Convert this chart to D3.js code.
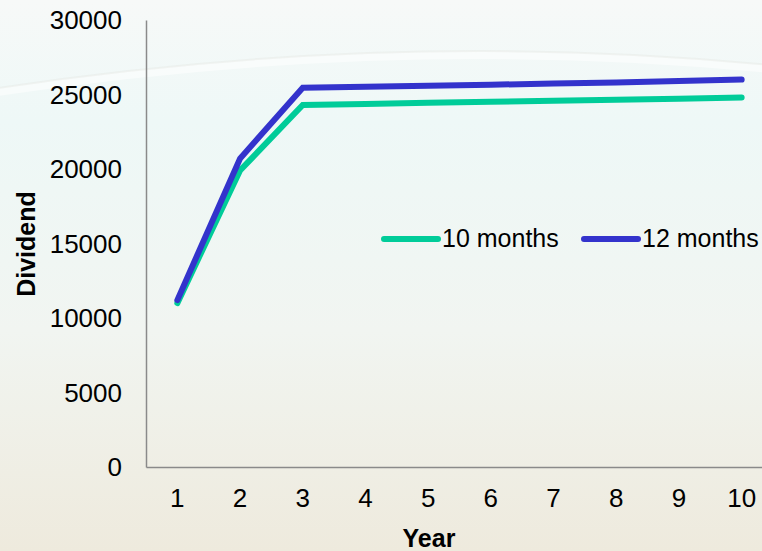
<!DOCTYPE html>
<html><head><meta charset="utf-8">
<script src="https://cdn.jsdelivr.net/npm/d3@7"></script>
<style>html,body{margin:0;padding:0;overflow:hidden;}svg{display:block;}</style>
</head><body>
<script>
const years = ["1","2","3","4","5","6","7","8","9","10"];
const tenMonths = [11000, 19900, 24300, 24370, 24440, 24510, 24580, 24650, 24720, 24800];
const twelveMonths = [11200, 20700, 25450, 25520, 25590, 25660, 25730, 25800, 25900, 26000];
const yTicks = [0, 5000, 10000, 15000, 20000, 25000, 30000];
const seriesNames = ["10 months", "12 months"];
const seriesColors = ["#00CC99", "#3333CC"];

(function(){
const W = 762, H = 551;
const svg = d3.select("body").append("svg").attr("width", W).attr("height", H);
const defs = svg.append("defs");
const lg = defs.append("linearGradient").attr("id","bg").attr("x1",0).attr("y1",0).attr("x2",0).attr("y2",1);
lg.append("stop").attr("offset","0%").attr("stop-color","#f7f9f8");
lg.append("stop").attr("offset","22%").attr("stop-color","#eef8f7");
lg.append("stop").attr("offset","60%").attr("stop-color","#f1f5f1");
lg.append("stop").attr("offset","100%").attr("stop-color","#eeeadd");
svg.append("rect").attr("width",W).attr("height",H).attr("fill","url(#bg)");
// faint arc
svg.append("path").attr("d","M -40 98 Q 390 28 800 72").attr("fill","none")
  .attr("stroke","#ffffff").attr("stroke-opacity",0.5).attr("stroke-width",8);
svg.append("path").attr("d","M -40 94 Q 390 24 800 68").attr("fill","none")
  .attr("stroke","#e3e6e2").attr("stroke-opacity",0.4).attr("stroke-width",2);

const mLeft = 146, mTop = 20, mBottom = 467;
const x = d3.scaleBand().domain(years).range([mLeft, mLeft + 62.7*10]);
const y = d3.scaleLinear().domain([0, 30000]).range([mBottom, mTop]);

const font = "Liberation Sans, Arial, sans-serif";
const fs = "26px";

const yAxis = svg.append("g").attr("transform",`translate(${mLeft},0)`)
  .call(d3.axisLeft(y).tickValues(yTicks).tickSize(0).tickPadding(24).tickFormat(d3.format("d")));
yAxis.attr("font-size", fs).attr("font-family", font);
yAxis.select(".domain").attr("stroke","#8a8a8a").attr("stroke-width",1.5);
yAxis.selectAll("text").attr("fill","#000").attr("dy","0.33em");

const xAxis = svg.append("g").attr("transform",`translate(0,${mBottom})`)
  .call(d3.axisBottom(x).tickSize(0).tickPadding(22));
xAxis.attr("font-size", fs).attr("font-family", font);
xAxis.select(".domain").attr("stroke","#8a8a8a").attr("stroke-width",1.5);
xAxis.selectAll("text").attr("fill","#000");

svg.append("text").attr("x", 429).attr("y", 547).attr("text-anchor","middle")
  .attr("font-family",font).attr("font-weight","bold").attr("font-size","25px").text("Year");
svg.append("text").attr("transform","translate(35,244) rotate(-90)").attr("text-anchor","middle")
  .attr("font-family",font).attr("font-weight","bold").attr("font-size","25px").text("Dividend");

const line = d3.line().x((d,i)=>x(years[i]) + x.bandwidth()/2).y(d=>y(d));
[tenMonths, twelveMonths].forEach((s,k)=>{
  svg.append("path").datum(s).attr("d",line).attr("fill","none")
    .attr("stroke",seriesColors[k]).attr("stroke-width",6)
    .attr("stroke-linecap","round").attr("stroke-linejoin","miter");
});

const legX = [384, 584];
seriesNames.forEach((n,k)=>{
  const g = svg.append("g");
  g.append("line").attr("x1",legX[k]).attr("x2",legX[k]+54).attr("y1",239).attr("y2",239)
    .attr("stroke",seriesColors[k]).attr("stroke-width",6).attr("stroke-linecap","round");
  g.append("text").attr("x",legX[k]+58).attr("y",247).attr("font-family",font).attr("font-size","25px")
    .attr("fill","#000").text(n);
});
})();
</script>
</body></html>
